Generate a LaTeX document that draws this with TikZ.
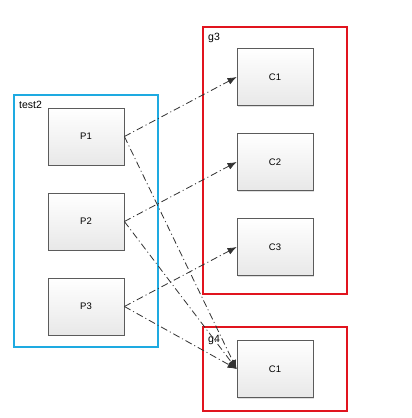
\documentclass[tikz,border=0pt]{standalone}
\usepackage{fontspec}
\setmainfont{Liberation Sans}
\usetikzlibrary{arrows.meta,shadows}
\definecolor{grpblue}{RGB}{30,170,225}
\definecolor{grpred}{RGB}{225,20,30}
\definecolor{edge}{RGB}{50,50,50}
\tikzset{
  x=1pt,y=-1pt,
  procbox/.style={draw=edge!80,line width=0.8pt,minimum width=76pt,minimum height=57pt,
    top color=white,bottom color=gray!18,inner sep=0pt,
    drop shadow={shadow xshift=1.2pt,shadow yshift=-1.2pt,opacity=0.25},
    font=\fontsize{9.5}{11}\selectfont},
  grpbox/.style={line width=1.6pt,inner sep=0pt},
  grplabel/.style={anchor=north west,inner sep=0pt,font=\fontsize{10.5}{12}\selectfont},
  link/.style={draw=edge,line width=0.8pt,dash pattern=on 7pt off 3pt on 1pt off 3pt,
    -{Latex[length=9pt,width=7pt]}}
}
\begin{document}
\begin{tikzpicture}
\useasboundingbox (0,0) rectangle (412,418);
\fill[white] (0,0) rectangle (412,418);
% groups
\node[grpbox,draw=grpblue,minimum width=144pt,minimum height=252pt] (test2) at (86,221) {};
\node[grpbox,draw=grpred,minimum width=144pt,minimum height=267pt] (g3) at (275,160.5) {};
\node[grpbox,draw=grpred,minimum width=144pt,minimum height=84pt] (g4) at (275,369) {};
\node[grplabel] (lt) at (19,101) {test2};
\node[grplabel] (l3) at (208,33) {g3};
\node[grplabel] (l4) at (208,335) {g4};
% process boxes
\node[procbox] (p1) at (86,136.5) {P1};
\node[procbox] (p2) at (86,221.5) {P2};
\node[procbox] (p3) at (86,306.5) {P3};
\node[procbox] (c1) at (275,77) {C1};
\node[procbox] (c2) at (275,162) {C2};
\node[procbox] (c3) at (275,247) {C3};
\node[procbox] (c4) at (275,369) {C1};
% links
\draw[link] (p1.east) -- (c1.west);
\draw[link] (p2.east) -- (c2.west);
\draw[link] (p3.east) -- (c3.west);
\draw[link] (p1.east) -- (c4.west);
\draw[link] (p2.east) -- (c4.west);
\draw[link] (p3.east) -- (c4.west);
\end{tikzpicture}
\end{document}
